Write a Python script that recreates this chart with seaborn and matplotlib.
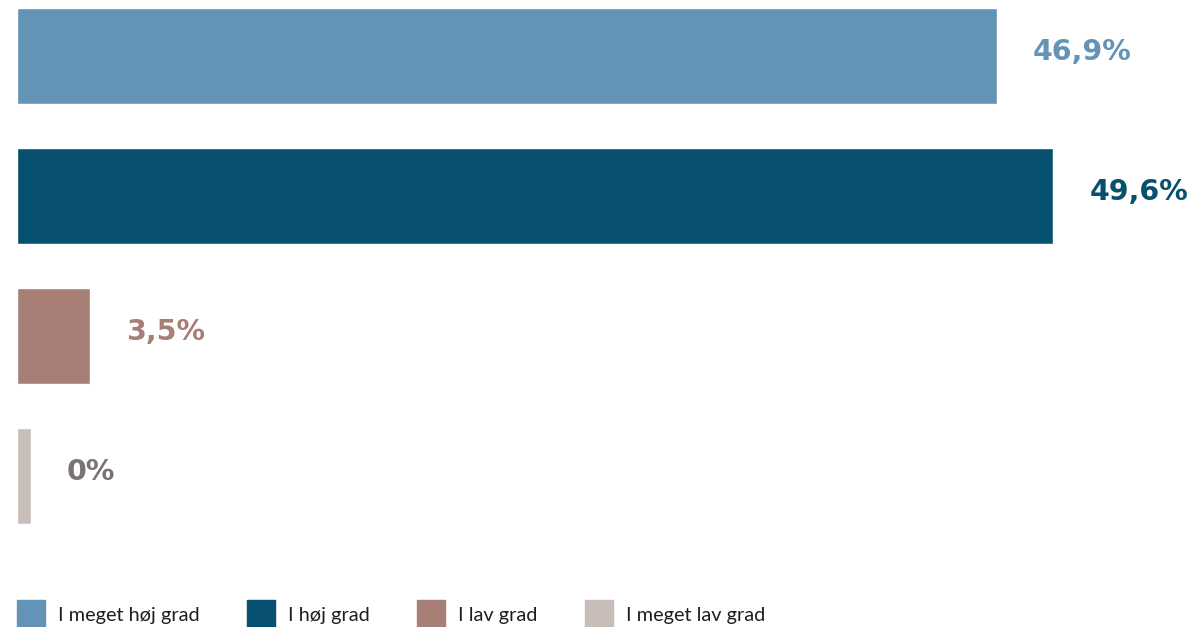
import numpy as np
import pandas as pd
import matplotlib
matplotlib.use('Agg')
import matplotlib.pyplot as plt
import seaborn as sns

# Data
categories = ['I meget høj grad', 'I høj grad', 'I lav grad', 'I meget lav grad']
values = [46.9, 49.6, 3.5, 0.0]
value_labels = ['46,9%', '49,6%', '3,5%', '0%']

bar_colors = ['#6394b6', '#08506f', '#a87f77', '#c9bdb8']
label_colors = ['#6394b6', '#08506f', '#a87f77', '#7a7371']

sns.set_theme(style='white')
plt.rcParams['font.family'] = ['Lato', 'DejaVu Sans']

df = pd.DataFrame({'kategori': categories, 'andel': values})
# a zero bar is still shown as a thin stub in the original
df['vist'] = np.maximum(df['andel'], 0.67)

fig = plt.figure(figsize=(11.93, 6.27), dpi=100)
ax = fig.add_axes([17 / 1193, 67 / 627, 1170 / 1193, 560 / 627])

sns.barplot(data=df, y='kategori', x='vist', hue='kategori', palette=bar_colors,
            orient='h', width=0.686, dodge=False, legend=False, ax=ax,
            saturation=1)

for i, (v, lab) in enumerate(zip(df['vist'], value_labels)):
    ax.annotate(lab, (v, i), xytext=(26, 3), textcoords='offset points',
                va='center', ha='left', fontsize=20.5, fontweight='bold',
                family='DejaVu Sans', color=label_colors[i])

ax.set_xlim(0, 56)
ax.set_ylim(3.6, -0.4)
ax.set_xlabel('')
ax.set_ylabel('')
ax.set_xticks([])
ax.set_yticks([])
sns.despine(ax=ax, left=True, bottom=True)

handles = [plt.Rectangle((0, 0), 1, 1, color=c) for c in bar_colors]
fig.legend(handles, categories, loc='upper left',
           bbox_to_anchor=(17 / 1193, 27 / 627), ncol=4, frameon=False,
           borderpad=0, borderaxespad=0, handlelength=1.4, handleheight=1.85,
           handletextpad=0.65, columnspacing=2.4,
           prop={'family': ['Lato', 'DejaVu Sans'], 'size': 14.3},
           labelcolor='#1e1e1e')

fig.savefig('out.png', dpi=100)
